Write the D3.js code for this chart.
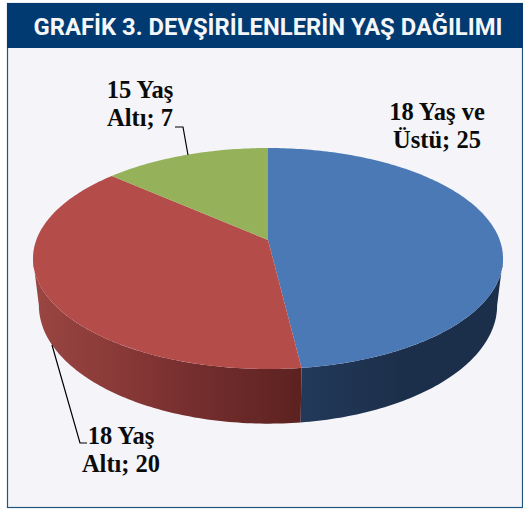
<!DOCTYPE html>
<html>
<head>
<meta charset="utf-8">
<script src="https://cdn.jsdelivr.net/npm/d3@7"></script>
<style>
html,body{margin:0;padding:0;background:#fff}
svg{display:block}
.lbl{font-family:"Liberation Serif",serif;font-weight:bold;font-size:24.5px;fill:#0b0b0b;text-anchor:middle}
</style>
</head>
<body>
<svg id="chart" width="523" height="510"></svg>
<script>
var categories = ["18 Yaş ve Üstü", "18 Yaş Altı", "15 Yaş Altı"]
var values = [25, 20, 7]
var colors = ["#4a79b6", "#b44c4a", "#95b15a"]
var title = "GRAFİK 3. DEVŞİRİLENLERİN YAŞ DAĞILIMI"
var labelLines = [["18 Yaş ve", "Üstü; 25"], ["18 Yaş", "Altı; 20"], ["15 Yaş", "Altı; 7"]]

var svg = d3.select("#chart")
var defs = svg.append("defs")

// panel + header
svg.append("rect").attr("x", 7.5).attr("y", 3.5).attr("width", 515).attr("height", 504).attr("fill", "#f4f4f9").attr("stroke", "#1f5680").attr("stroke-width", 1.2)
svg.append("rect").attr("x", 7).attr("y", 3).attr("width", 516).attr("height", 45).attr("fill", "#003a70")
svg.append("text").attr("x", 268).attr("y", 35).attr("text-anchor", "middle").attr("fill", "#f4f6f8")
    .attr("font-family", "Roboto").attr("font-weight", 700).attr("font-size", 24).attr("textLength", 469).attr("lengthAdjust", "spacingAndGlyphs").text(title)

// perspective projection of the pie disc, bottom disc is a bit narrower
var cx = 268, cy = 240, R = 231.7, S = 107.4, k = 0.1674, depth = 45.5, bottomScale = 0.975
function project(a, h) {
    var u = Math.sin(a), v = -Math.cos(a), w = 1 - k * v
    var sx = h > 0 ? bottomScale : 1
    return [cx + sx * R * u / w, cy + S * v / w + h / w]
}
function arcPoints(a0, a1, h) {
    var n = Math.max(2, Math.ceil((a1 - a0) * 60))
    return d3.range(n + 1).map(function (i) { return project(a0 + (a1 - a0) * i / n, h) })
}
var line = d3.line()
var arcs = d3.pie().sort(null)(values)

// side wall, only the part that faces the viewer
var sideStops = [
    [[0, "#9a4643"], [0.3, "#8a3a38"], [0.6, "#752e2e"], [1, "#5c2220"]],
    [[0, "#22395a"], [0.5, "#1c2f4a"], [1, "#1c2f4a"]]
]
var sideRange = [[33, 301], [301, 503]]
;[0, 1].forEach(function (i) {
    var g = defs.append("linearGradient").attr("id", "side" + i).attr("gradientUnits", "userSpaceOnUse")
        .attr("x1", sideRange[i][0]).attr("x2", sideRange[i][1]).attr("y1", 0).attr("y2", 0)
    sideStops[i].forEach(function (s) { g.append("stop").attr("offset", s[0]).attr("stop-color", s[1]) })
})
var blue = arcs[0]
// wall runs between the two widest points of the projected disc
var tangent = Math.asin(k)
var sides = [
    { a0: blue.endAngle, a1: Math.PI * 1.5 - tangent, fill: "url(#side0)" },
    { a0: Math.PI / 2 + tangent, a1: blue.endAngle, fill: "url(#side1)" }
]
sides.forEach(function (s) {
    var top = arcPoints(s.a0, s.a1, 0)
    var bot = arcPoints(s.a0, s.a1, depth).reverse()
    svg.append("path").attr("d", line(top.concat(bot)) + "Z").attr("fill", s.fill)
})

// top faces
arcs.forEach(function (d, i) {
    var pts = [[cx, cy]].concat(arcPoints(d.startAngle, d.endAngle, 0))
    svg.append("path").attr("d", line(pts) + "Z").attr("fill", colors[i])
})

// leader lines
var leaders = [
    [[175, 127], [183, 127], [188, 155]],
    [[52, 345], [80, 443], [87, 443]]
]
leaders.forEach(function (l) {
    svg.append("path").attr("d", line(l)).attr("fill", "none").attr("stroke", "#000").attr("stroke-width", 1.2)
})

// labels
var labelPos = [[437, 120], [121, 444], [140, 98]]
labelLines.forEach(function (lines, i) {
    lines.forEach(function (t, j) {
        svg.append("text").attr("class", "lbl").attr("x", labelPos[i][0]).attr("y", labelPos[i][1] + j * 27.5).text(t)
    })
})
</script>
</body>
</html>
